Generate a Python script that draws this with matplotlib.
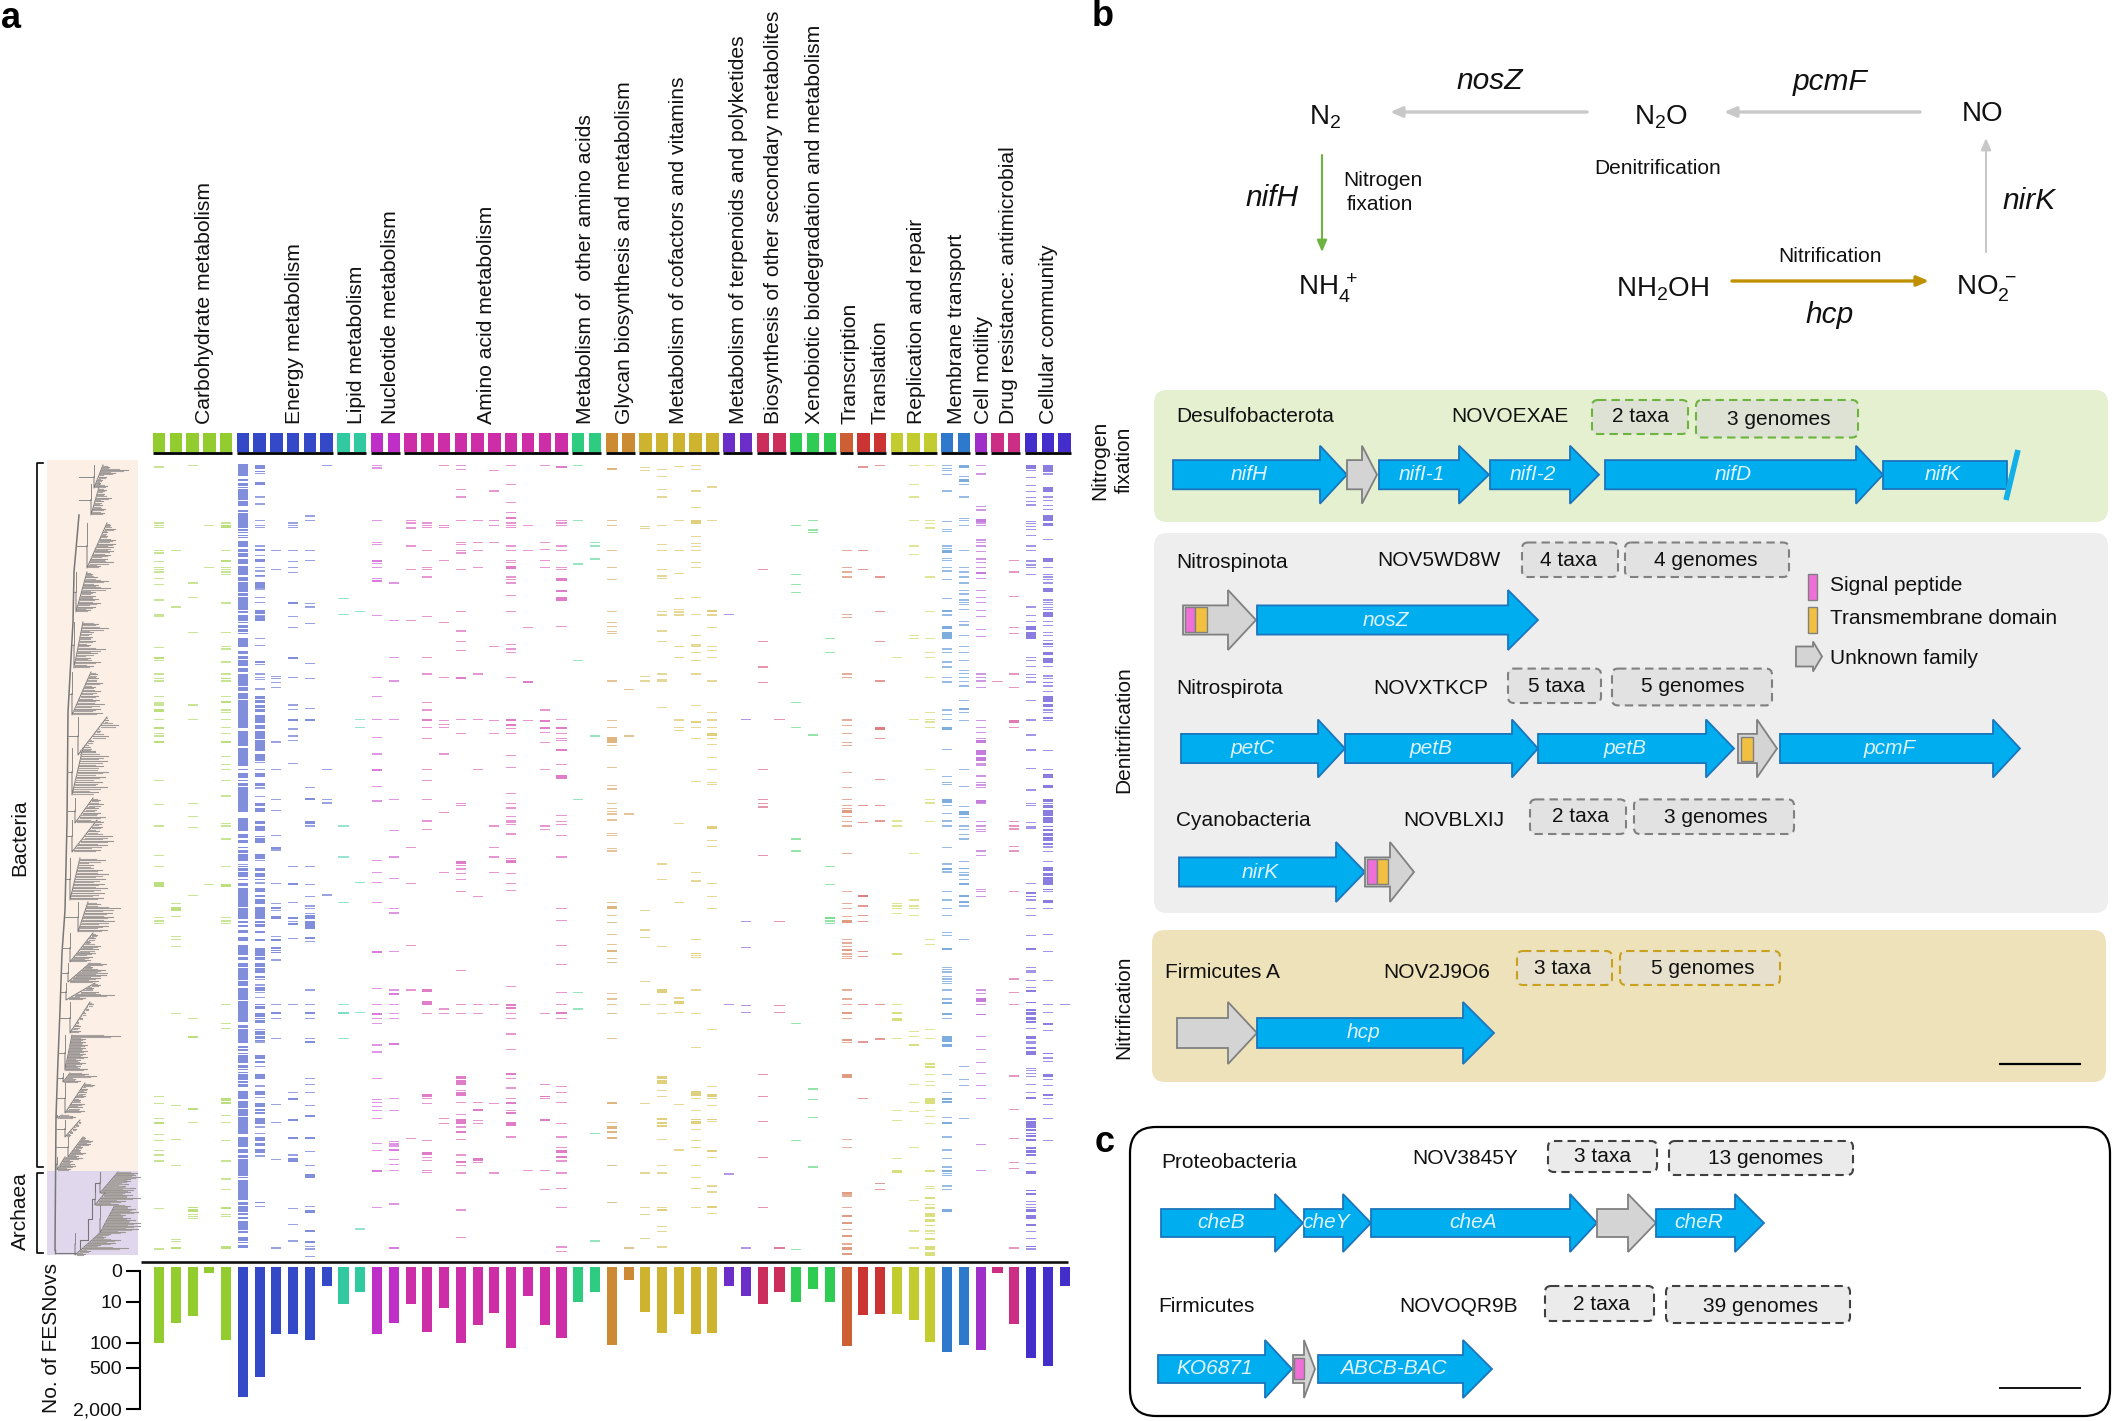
import numpy as np
import matplotlib
matplotlib.use("Agg")
import matplotlib.pyplot as plt
from matplotlib.patches import FancyBboxPatch, Polygon, Rectangle

plt.rcParams["font.family"] = ["Liberation Sans", "DejaVu Sans"]
plt.rcParams["mathtext.default"] = "regular"

# categories of panel a
group_names = [
    "Carbohydrate metabolism", "Energy metabolism", "Lipid metabolism", "Nucleotide metabolism",
    "Amino acid metabolism", "Metabolism of  other amino acids", "Glycan biosynthesis and metabolism",
    "Metabolism of cofactors and vitamins", "Metabolism of terpenoids and polyketides",
    "Biosynthesis of other secondary metabolites", "Xenobiotic biodegradation and metabolism",
    "Transcription", "Translation", "Replication and repair", "Membrane transport", "Cell motility",
    "Drug resistance: antimicrobial", "Cellular community",
]
group_sizes = [5, 6, 2, 2, 10, 2, 2, 5, 2, 2, 3, 1, 2, 3, 2, 1, 2, 3]
group_colors = [
    "#93CC2E", "#3449C7", "#30C9A0", "#C02EC8", "#CD2EA8", "#2ECC80", "#CC8A33", "#CDB32E", "#6B2EC8",
    "#CC2E5C", "#2ECC52", "#CC5F33", "#CC3333", "#C3CC2E", "#2E79CC", "#A02EC8", "#CC2E85", "#432ECC",
]

# number of FESNovs per column
fesnov_counts = [
    100, 33, 23, 0.2, 86, 1329, 672, 63, 63, 86, 2.2, 11.3, 4.3, 63, 34.5, 11.3, 56, 14.5, 100, 37,
    19, 137, 5.9, 38, 79, 10.2, 4.3, 114, 1.1, 18, 60, 20, 62, 60, 2.2, 5.9, 11.3, 4.3, 10.2, 3.2,
    10.2, 124, 22, 20, 20, 29, 95, 181, 118, 156, 0.2, 36, 260, 450, 2.2,
]

# presence rows per column, upper half of the matrix; a pair is a thick band
upper_rows = [
    [51, 219, 226, 233, 302, 309, 334, 352, 359, 366, 385, 403, 450, 493, 498, 593, (621, 627), 632, 672, 686, 693, 740, 759, 765, (777, 785), 808, (832, 838), 851, 858, (872, 878), 992, 1063, 1128],
    [302, 471],
    [47, 399, 442, 547, 765, 808, 1060, 1100, 1132],
    [226, 352],
    [219, (226, 235), 302, (330, 336), 352, 359, 366, 373, 459, 547, 590, 597, 636, 672, (683, 688), 693, 740, (753, 759), 780, 787, 808, 833, 851, (872, 878), 919, 944, 959, 992, 1038, 1121, 1128, 1167],
    [(42, 78), (88, 93), (98, 108), (111, 113), (118, 150), (154, 168), (179, 186), (190, 235), (238, 242), (245, 250), (254, 258), (261, 264), (272, 290), (297, 305), (310, 314), (316, 322), (326, 343), (348, 375), (380, 393), (397, 425), (430, 438), (441, 480), (484, 490), (495, 514), (517, 520), (524, 534), (538, 546), (549, 553), (563, 590), (603, 611), (618, 626), (631, 647), (654, 666), (672, 707), (712, 723), (730, 746), (750, 835), (842, 887), (893, 947), (957, 961), (969, 983), (990, 994), (998, 1008), (1012, 1086), (1104, 1112), (1114, 1143), (1152, 1165), (1170, 1178), (1190, 1194)],
    [(46, 57), (62, 67), 71, (96, 104), 141, 162, 212, 226, 233, 288, (297, 303), 316, (326, 336), 352, 363, (374, 378), 380, (397, 413), 417, 442, 457, (481, 491), 496, (499, 513), 565, 587, (633, 640), 643, 672, 683, 689, 717, (738, 746), (750, 760), (765, 773), (778, 786), (796, 818), (826, 838), (844, 866), (870, 902), (912, 933), 937, 959, (970, 982), (998, 1008), 1014, 1040, (1060, 1068), (1074, 1086), (1113, 1121), (1128, 1142), (1157, 1160), (1165, 1172), (1172, 1180)],
    [302, 359, 679, 686, 697, 712, 876, 959, 1049, 1081, 1157, (1190, 1197)],
    [219, 226, 233, 302, 334, 352, 367, (457, 461), 499, 532, (621, 626), 683, 765, 779, (808, 812), 837, 858, 872, 940],
    [198, 212, 302, 331, 460, 471, 521, 640, 686, 775, (808, 812), 1013, (1045, 1050), (1112, 1122), 1128],
    [47, 959, 1049, 1059],
    [446, 493, 1128],
    [485, 808, 833],
    [47, 54, 212, 277, 284, (329, 336), 341, 352, 385, (390, 397), 496, 683, 740, 808, 862, 912, (958, 964), 1010, 1053],
    [399, 511, 622, 693, 808, 1049, 1142],
    [212, 219, 234, 288, 359, 511, 1192],
    [219, 226, 233, 302, 352, 359, 381, 499, 622, 672, 758, 780, (807, 813), 833, 866, 959, 992, 1049, 1113, 1138],
    [47, 226, 233, 331, 518, 683, 812, 823, 833, 912, 1088],
    [47, 58, 119, 141, 212, 277, 284, 302, 309, 359, 485, 543, 575, 601, (681, 688), 808, 851, 1060, 1067],
    [212, 277, 302, 352, 672, 808, 959],
    [62, 123, 212, 226, 277, 590, 812, 851, 1128, 1192],
    [47, 104, 158, 187, (200, 207), 219, 226, 233, 288, 302, 331, 338, (348, 356), 381, 388, 399, 436, 485, 583, 597, 607, 682, (806, 812), (823, 829), 835, 851, 916, 952, 1031, 1060, 1074, 1100, 1113, 1118, 1124, 1152],
    [226, 302, 532, (692, 698), 812],
    [47, 277, 298, 331, 352, 780, (810, 816), (832, 838), 848, 877, 959, 1128, 1138],
    [(49, 55), 212, 219, 226, 288, 302, 352, 359, (383, 393), (420, 425), (441, 452), 529, 808, (832, 838), 851, 865, 872, (896, 902), 944, (976, 986), 1096, 1115, 1124, 1157],
    [47, 212, 342, 632, 1049],
    [277, 288, 327, 858],
    [(54, 60), 212, 226, 302, 352, 388, 485, 518, 530, 545, 550, 693, 812, 833, (862, 880), 887, 952, 1006, 1017, 1060, 1075, 1085, 1092, 1110, 1150, 1156, 1195],
    [718, 858, 1092],
    [52, 61, 230, 235, 680, 693],
    [58, 80, 119, 141, 226, 284, 302, 359, 378, 385, 485, 495, 543, 575, 672, 688, 693, 772],
    [50, 212, 302, 370, 446, 478, 486, 495, 590, 622, 810, 833, 841, 1120],
    [47, 59, 123, 173, (211, 221), 259, 280, 290, 302, 338, 352, 442, 493, 557, 585, 590, 608, 632, 672, 766, (814, 820), 833, 865, 995],
    [111, 212, (481, 487), 495, 532, 590, 601, 622, 693, 787, 810, 833, (849, 857), 865, 883, 922, 958, 998, 1003, (1128, 1136), 1171, 1189],
    [493],
    [808],
    [359, 575, 651, 697, 958, 1049, 1060, 1071],
    [808],
    [226, 373, 403, 428, 758, 833, 1167],
    [212, 240, 247, 855],
    [565, 607],
    [302, 352, 366, 381, 493, 503, 672, 682, 810, 826, 851, 877, 886, 967, 1013, 1049, 1067, 1076, (1081, 1089), 1099, 1114, 1128],
    [51, 302, 359, 1067, 1117],
    [47, 381, 485, 575, 693, (831, 839), 865, 988, 1067, 1113],
    [622, 1113, 1128],
    [47, 104, 141, 212, 288, 313, 557, 565, 808],
    [47, 212, 220, 234, 381, 485, 565, 607, 622, 682, 787, 808, 816, 833, 958, 1049, 1059, 1114],
    [47, 55, 62, 73, 123, 215, 238, 244, 288, 296, (301, 309), 325, 331, 352, 363, 388, 446, (481, 487), 495, (528, 536), (546, 566), 597, 607, 636, 651, 682, 696, 780, 793, 808, (831, 839), 898, 979, 997, 1003, (1047, 1058), 1067, 1090, 1113, 1128, 1192],
    [(46, 55), 80, (87, 95), 104, 141, 205, 212, 226, 302, 352, 366, 381, 399, 421, 432, 450, 457, 464, 478, 514, 525, 557, 589, 608, 632, 662, 671, 682, 694, 708, 751, (775, 781), 787, 812, 959, 1010, 1069, (1084, 1095), 1103, 1128, 1138, 1153, 1167],
    [47, 72, 169, 180, (208, 216), 219, 226, 270, 277, 288, 305, 327, 338, 352, (365, 371), 385, 421, 442, 457, 482, 499, 539, 559, 672, 682, 693, 712, 812, 833, 847, 865, (870, 879), (900, 914), (921, 932), 942, 947, 978, 997, 1005, 1013, (1050, 1058), 1060, 1115, 1128, 1138, 1144],
    [695],
    [331, 366, 439, 532, 550, 672, 712, (809, 820), 833, 1114, 1128, 1137, 1189],
    [(46, 56), 62, 83, 107, 125, 143, 155, 165, 214, 220, 230, 238, 256, 288, 302, 333, 345, 352, 373, 471, 496, 515, (528, 540), (546, 566), 622, 632, 650, 673, 682, 696, 751, 810, 855, 900, 955, 1020, 1060, 1067, 1117, 1131, 1136],
    [(46, 66), 72, (112, 127), 141, 152, 166, 179, (195, 214), (219, 228), 268, (323, 335), 352, 373, 381, 388, 399, (415, 426), 450, 457, 464, 472, 478, (485, 500), 514, 527, 547, 557, 571, (578, 584), 589, (606, 614), (624, 638), 650, 678, 686, (697, 700), 708, 724, (739, 755), (762, 772), 780, 787, (800, 806), 812, 901, 958, (972, 983), (1005, 1015), (1048, 1055), 1060, (1066, 1075), (1080, 1098), (1102, 1118), (1128, 1132), (1136, 1144), (1150, 1158), (1162, 1172), (1178, 1184), 1191],
    [],
]

# presence rows per column, lower half of the matrix
lower_rows = [
    [17, 49, (96, 112), 203, 213, 221, 739, 760, 806, (815, 822), 854, 872, 901, 915, 933, 1076, 1197],
    [160, (172, 183), 200, 260, 268, 290, 491, 767, 868, 947, 1168, 1174, (1190, 1196)],
    [136, 505, (558, 564), (773, 779), 817, (1072, 1075), (1078, 1086), 1094, 1100, 1105],
    [103],
    [49, (103, 112), 203, 213, 221, 463, 520, 535, (745, 752), (756, 761), 796, 817, 872, 933, 987, 1019, (1072, 1078), 1094, 1100, (1188, 1198)],
    [(0, 8), (12, 33), 43, (47, 50), (54, 62), (66, 82), (86, 90), (98, 108), (114, 170), (175, 208), (213, 219), (224, 232), (241, 248), (260, 274), (285, 315), (320, 330), (338, 350), (354, 390), (394, 407), (414, 450), (454, 516), (524, 534), (538, 578), (587, 594), (598, 604), (610, 612), (615, 640), (645, 655), (658, 660), (665, 668), (672, 690), (694, 698), (702, 710), (723, 748), (752, 774), (778, 797), (800, 852), (860, 890), (898, 908), (915, 924), (928, 978), (982, 984), (990, 1050), (1056, 1064), (1068, 1086), (1090, 1096), (1100, 1106), (1114, 1140), (1144, 1150), (1160, 1172), (1176, 1180), (1185, 1194)],
    [(12, 26), 31, (55, 63), (68, 82), (86, 90), 99, (113, 127), (135, 142), (148, 162), (172, 208), (213, 218), (222, 230), (242, 250), (266, 274), (293, 318), (322, 330), (338, 350), (353, 368), (378, 384), 388, 405, (412, 422), 427, 442, (461, 466), (469, 476), (489, 500), (505, 508), (511, 518), 538, (544, 554), (558, 566), (570, 572), 576, (616, 626), (632, 640), 649, (673, 686), 708, (724, 736), 742, (760, 772), (778, 784), (786, 792), (805, 822), 831, 850, (862, 874), (878, 888), (898, 908), 918, (1056, 1060), 1069],
    [0, 100, 160, (170, 178), 182, (198, 206), 260, (266, 272), (292, 298), (300, 303), (305, 310), 330, 463, (486, 493), 505, 566, 763, 817, 929, 1194],
    [49, (98, 104), 157, (200, 206), 215, (218, 224), 265, 463, 728, (744, 750), (806, 812), (860, 866), 915, (925, 935), 1076, 1123, 1173],
    [49, 103, 140, 168, 176, 190, (196, 208), (214, 236), (262, 266), 275, 420, 463, (487, 493), 506, 566, (572, 578), 686, 703, 728, 767, (796, 800), (860, 866), 904, 947, (972, 984), 1069, (1080, 1088), (1140, 1145), (1172, 1178), 1190, 1197, 1219],
    [135],
    [21, 157, 463, (487, 493), 566],
    [97, 487, 1137],
    [31, 67, 97, 157, (303, 310), 415, 463, (490, 496), 505, 520, 585, 606, 685, 748, 758, 770, 781, 806, 880, 901, (960, 966), 1072],
    [21, 85, 175, 189, 305, 420, (430, 435), 463, 491, 505, (580, 585), 745, 781, 875, 882, 888, (896, 902), 929, 943, 962, 1062, (1190, 1198)],
    [100, 286, 420, 865],
    [(418, 425), (454, 464), 491, (732, 741), 745, 760, 872, (907, 914), 922, 932, 961, 967],
    [67, 477, 491, 806, 821],
    [(33, 41), 46, 57, 71, 89, 125, 362, 463, 491, (678, 686), (690, 704), 721, (727, 737), 757, 793, (806, 818), (820, 822), 831, (842, 848), 868, 915, (932, 938), 946, 969, 1080, 1162],
    [139, 463, 491, 757, (777, 782), 811, 821, (925, 934), 937],
    [21, 67, 463, 760, 969],
    [25, (30, 40), 71, 100, 122, 409, (462, 467), (471, 478), 491, 505, 552, 598, (670, 676), 685, 714, 745, (757, 762), 781, (786, 791), (817, 827), 861],
    [961],
    [491, 703, (738, 742), 746, (806, 812), 961, 1019],
    [21, 175, 211, 286, 344, 427, 463, (487, 493), 505, 709, 727, 757, 821, 861, 893, (900, 908), (918, 923), 933, 969, 1015, 1072, 1191, 1205],
    [427, 477],
    [850, 1173],
    [3, 157, (168, 176), 197, 218, 254, 283, (300, 305), 326, 338, 430, 447, 463, 491, 566, (755, 762), 817, (828, 836), (842, 848), (860, 866), 947, 1058],
    [1194],
    [182, 240, 262, 394, 463, 760, 969, 1072, 1094, 1166],
    [42, 88, 290, (418, 428), 463, 491, (678, 688), (690, 702), 721, 739, (805, 810), (816, 822), (825, 830), 868, 947, 969, 1072, (1076, 1082), 1130, 1144, 1191],
    [157, 444, (453, 461), 488, 763, 900],
    [68, 93, 268, (308, 313), 317, 322, 420, 491, 592, (724, 737), 745, 781, (806, 810), (814, 822), 839, 872, 893, 947, 983, 1015, 1072],
    [100, 140, 175, 538, 709, (731, 740), 745, 767, (806, 810), 814, (900, 906), 922, 1008, 1026, (1068, 1074), 1090],
    [463, 972],
    [214, 293, 466, 487, 1194],
    [17, 674, 739, 814, 922, 1072],
    [214, 466, 487, (1190, 1196)],
    [3, 520, 872, 1198],
    [717, 749, 802, 951],
    [49, 103, (202, 206), 213, 221],
    [10, 125, 160, 175, 200, (210, 219), 268, 279, 290, (296, 304), 312, 319, 326, 420, 447, 463, (486, 493), 505, (566, 572), 577, (673, 683), 868, 893, (1025, 1032), 1035, 1040, 1072, (1094, 1102), (1115, 1122), 1139, (1155, 1160), 1182, (1192, 1200), (1208, 1216)],
    [(135, 141), 168, 197, 214, 304, 319, 463, 576, 745],
    [463, 567, 1001, 1019],
    [160, 168, 175, 190, (308, 314), 463, (487, 493), (505, 514), 566, 781, 811, 926, (961, 969)],
    [10, 150, 168, 175, 197, 545, 560, (575, 577), (583, 587), 703, 757, 785, 893, 1051, 1143, 1194],
    [268, 283, 538, 566, (640, 645), (648, 654), 674, 695, 706, (745, 752), (754, 761), 781, 799, 821, (961, 967), 1009, 1015, (1040, 1046), 1063, (1070, 1078), (1090, 1102), (1108, 1116), (1124, 1128), 1143, 1150, (1163, 1170), (1187, 1200), (1206, 1218)],
    [42, (55, 60), 66, 125, 150, 175, 197, 247, 257, (293, 299), 352, 359, 366, 380, 387, 394, 401, 420, 447, (455, 461), (490, 496), 505, (558, 576), (582, 590), 674, 728, (745, 750), (754, 760), 803, (817, 823), 861, 900, 926, 951, (960, 965), 970, 977, 1008, 1019, (1078, 1085)],
    [35, (53, 58), 68, 75, 89, (98, 105), (135, 141), (153, 160), 168, 268, 649, 688, 706, 806],
    [3, 17, 118, 125, 139, 420, 430, (444, 456), 463, (491, 496), 559, 598, 638, 670, 706, 745, 883, 961],
    [],
    [3, 125, 387, 427, 463, 678, 778, 865, 937, 955, 1194],
    [100, (126, 132), (137, 142), 150, 175, 197, 257, (293, 300), 352, 362, 366, 391, 412, (419, 425), (455, 460), (476, 482), (486, 494), (500, 509), (513, 520), 535, (558, 568), 576, 580, (592, 598), (604, 614), 656, 662, 670, 680, 703, 728, (741, 748), (805, 810), (814, 834), (838, 842), (848, 852), (856, 862), (866, 874), (892, 898), (900, 910), (912, 918), 940, (963, 971), (1020, 1024), (1028, 1036), 1054, 1063, 1072, (1078, 1086), (1094, 1106), (1122, 1128), 1144, 1166, (1188, 1192), 1197],
    [5, 35, (52, 62), (68, 78), (82, 105), (116, 119), 124, (149, 158), 175, 254, 304, 391, 463, 487, (519, 524), 541, (608, 613), 624, 634, (673, 680), 688, 706, (731, 738), 745, 763, 806, 872],
    [463],
]

# tree clades: top, bottom, stem x, inner x, then tip ends from top to bottom
tree_clades = [
    (465, 488, 94, 103, [109, 128, 115, 106, 102, 100, 103]),
    (484, 515, 91, 100, [107, 106, 104, 111, 103, 102, 105, 104]),
    (523, 568, 87, 107, [110, 115, 107, 107, 115, 115, 113, 113, 110, 107, 113, 100]),
    (572, 612, 76, 87, [92, 97, 108, 98, 110, 95, 95, 98, 100, 95, 90]),
    (622, 668, 74, 83, [98, 108, 93, 92, 95, 90, 105, 97, 90, 100, 93]),
    (672, 715, 72, 91, [97, 98, 102, 95, 100, 98, 99, 104, 100, 102]),
    (717, 755, 78, 107, [108, 118, 100, 108, 93, 90, 95]),
    (748, 795, 72, 83, [95, 108, 107, 103, 108, 105, 102, 107, 98]),
    (798, 823, 75, 93, [100, 103, 98, 100, 105, 97]),
    (820, 852, 72, 97, [103, 102, 99, 112, 113, 107, 100]),
    (858, 900, 70, 80, [105, 93, 102, 108, 105, 104, 107, 104, 103]),
    (902, 932, 78, 88, [100, 120, 112, 113, 114, 108, 107]),
    (933, 962, 70, 93, [97, 95, 90, 100, 98, 95, 92, 90]),
    (963, 982, 68, 90, [106, 92, 105, 107, 106, 100, 98]),
    (983, 1000, 66, 95, [100, 93, 98, 114, 85]),
    (1002, 1033, 70, 90, [93, 88, 85, 82, 78, 80, 80]),
    (1035, 1070, 65, 72, [120, 85, 85, 87, 85, 87, 85, 87, 80, 85, 80, 87]),
    (1073, 1082, 63, 70, [88, 96, 75, 80]),
    (1083, 1113, 65, 85, [94, 87, 86, 85, 80, 84, 82, 84]),
    (1115, 1118, 57, 62, [72, 75]),
    (1120, 1137, 65, 80, [80, 78, 76, 72, 70]),
    (1137, 1157, 68, 83, [85, 92, 90, 82, 80, 85, 78]),
    (1157, 1170, 57, 65, [82, 72, 74, 75, 70]),
    (1172, 1193, 100, 118, [137, 135, 140, 130, 130, 128, 125, 135, 133, 130]),
    (1193, 1205, 95, 105, [132, 140, 125, 118]),
    (1205, 1233, 100, 115, [130, 135, 138, 125, 130, 135, 140, 140, 138, 125]),
    (1233, 1255, 75, 100, [110, 105, 120, 115, 100, 128, 90, 85]),
]
backbone_x = [79, 74, 73, 68, 67, 65, 62, 60, 58, 56, 55]
backbone_y = [515, 572, 622, 712, 822, 910, 953, 1010, 1060, 1117, 1250]
archaea_stem_x = [55, 73, 80, 88, 92, 95, 100]
archaea_stem_y = [1253, 1253, 1240, 1219, 1199, 1183, 1172]

# gene rows of panels b and c: name, start, head start, end
genes_nif = [("nifH", 1173, 1320, 1347), (None, 1347, 1362, 1377), ("nifI-1", 1379, 1459, 1489), ("nifI-2", 1490, 1570, 1599), ("nifD", 1605, 1856, 1883)]
genes_nos = [(None, 1183, 1228, 1256), ("nosZ", 1257, 1508, 1538)]
genes_pcm = [("petC", 1181, 1318, 1345), ("petB", 1345, 1512, 1538), ("petB", 1538, 1706, 1734), (None, 1738, 1757, 1777), ("pcmF", 1780, 1993, 2020)]
genes_nir = [("nirK", 1179, 1336, 1365), (None, 1365, 1390, 1414)]
genes_hcp = [(None, 1177, 1228, 1257), ("hcp", 1257, 1463, 1494)]
genes_che = [("cheB", 1161, 1275, 1303), ("cheY", 1304, 1343, 1371), ("cheA", 1371, 1570, 1597), (None, 1597, 1628, 1656), ("cheR", 1656, 1735, 1764)]
genes_abc = [("KO6871", 1158, 1265, 1292), (None, 1293, 1304, 1315), ("ABCB-BAC", 1318, 1463, 1492)]

W, H = 2128, 1421
COL0, COL_STEP = 159, 16.77
GENE_BLUE, GENE_EDGE = "#00ADEF", "#1B75BC"
GREY_FILL, GREY_EDGE = "#D4D4D4", "#808080"
PINK, GOLD = "#EE6FD8", "#F2C040"
TXT = "#111111"

col_colors = np.repeat(group_colors, group_sizes)
columns = np.arange(len(col_colors))


def px_axes(fig, x0, y0, x1, y1):
    return fig.add_axes([x0 / W, 1 - y1 / H, (x1 - x0) / W, (y1 - y0) / H])


def col_lim(x0, x1):
    return (x0 - COL0) / COL_STEP, (x1 - COL0) / COL_STEP


def draw_rows(ax, rows, offset):
    for col, col_list in enumerate(rows):
        thin = [r + offset - 2.2 for r in col_list if not isinstance(r, tuple)]
        bands = [r for r in col_list if isinstance(r, tuple)]
        if thin:
            ax.barh(thin, 0.6, left=col - 0.3, height=4.4, align="edge",
                    color=col_colors[col], alpha=0.5, linewidth=0)
        if bands:
            ax.barh([b[0] + offset for b in bands], 0.6, left=col - 0.3, height=[b[1] - b[0] for b in bands],
                    align="edge", color=col_colors[col], alpha=0.62, linewidth=0)


def draw_tree(ax):
    ax.plot(backbone_x, backbone_y, color="#777777", lw=1.1)
    ax.plot([55, 55], [1250, 1253], color="#777777", lw=1.0)
    ax.plot(archaea_stem_x, archaea_stem_y, color="#777777", lw=0.8, drawstyle="steps-post")
    for top, bottom, stem, inner, tips in tree_clades:
        mid = (top + bottom) / 2
        if mid < 1171:
            ax.plot([np.interp(mid, backbone_y, backbone_x), stem], [mid, mid], color="#8a8a8a", lw=0.7)
        ax.plot([stem, stem, inner], [mid, bottom, top], color="#777777", lw=0.7)
        ax.plot([stem, stem], [top, mid], color="#8a8a8a", lw=0.7)
        n = len(tips)
        for k, tip in enumerate(tips):
            y = top + (bottom - top) * (k + 0.5) / n
            start = stem + (inner - stem) * (1 - (k + 0.5) / n)
            dy = (bottom - top) / n / 3
            ax.plot([start, tip], [y, y], color="#9c9694", lw=0.8)
            ax.plot([start, start + (tip - start) * 0.8], [y + dy, y + dy], color="#a8a2a0", lw=0.8)
            ax.plot([start, start + (tip - start) * 0.65], [y - dy, y - dy], color="#a8a2a0", lw=0.8)


def draw_arrow(ax, start, head, end, yc, body, half, fill, edge):
    pts = [(start, yc - body), (head, yc - body), (head, yc - half), (end, yc),
           (head, yc + half), (head, yc + body), (start, yc + body)]
    ax.add_patch(Polygon(pts, closed=True, facecolor=fill, edgecolor=edge, lw=1.3, zorder=3))


def draw_genes(ax, genes, yc, body=14.6, half=29):
    for name, start, head, end in genes:
        if name is None:
            draw_arrow(ax, start, head, end, yc, body, half, GREY_FILL, GREY_EDGE)
        else:
            draw_arrow(ax, start, head, end, yc, body, half, GENE_BLUE, GENE_EDGE)
            ax.text((start + head) / 2 + (end - head) * 0.1, yc, name, color="#DFF4FF", style="italic",
                    fontsize=15, ha="center", va="center", zorder=4)


def dashed_box(ax, x0, y0, x1, y1, label, lx, ly, edge, face):
    ax.add_patch(FancyBboxPatch((x0, y0), x1 - x0, y1 - y0, boxstyle="round,pad=0,rounding_size=6",
                                facecolor=face, edgecolor=edge, lw=1.5, linestyle=(0, (4, 2.5)), zorder=2))
    ax.text(lx, ly, label, fontsize=15, color=TXT, ha="center", va="center", zorder=3)


def domain(ax, x0, x1, y0, y1, color):
    ax.add_patch(Rectangle((x0, y0), x1 - x0, y1 - y0, facecolor=color, edgecolor=GREY_EDGE, lw=1, zorder=5))


def panel(ax, x0, y0, x1, y1, color):
    ax.add_patch(FancyBboxPatch((x0, y0), x1 - x0, y1 - y0, boxstyle="round,pad=0,rounding_size=13",
                                facecolor=color, edgecolor="none", zorder=1))


def flow(ax, xy_from, xy_to, color, lw):
    ax.annotate("", xy=xy_to, xytext=xy_from, zorder=3,
                arrowprops=dict(arrowstyle="-|>,head_length=0.7,head_width=0.3", color=color, lw=lw,
                                shrinkA=0, shrinkB=0))


fig = plt.figure(figsize=(W / 100, H / 100), dpi=100, facecolor="white")

# matrix of panel a
ax_heat = px_axes(fig, 140, 450, 1075, 1261)
ax_heat.set_xlim(*col_lim(140, 1075))
ax_heat.set_ylim(2433, 0)
draw_rows(ax_heat, upper_rows, 0)
draw_rows(ax_heat, lower_rows, 1200)
ax_heat.axis("off")

# colour strip and group rules
ax_strip = px_axes(fig, 140, 433, 1075, 455)
ax_strip.set_xlim(*col_lim(140, 1075))
ax_strip.set_ylim(0, 22)
ax_strip.bar(columns, 19, width=0.74, bottom=3, color=col_colors, linewidth=0)
first = 0
for size in group_sizes:
    ax_strip.hlines(1.5, first - 0.37, first + size - 1 + 0.37, color="black", lw=2)
    first += size
ax_strip.axis("off")

# bars below the matrix, on the picture's stretched log axis
scale_u = np.log10(1 + np.array([-0.109, 0, 10, 100, 500, 2000]))
scale_pos = np.array([-4.0, 0, 31, 72, 97.3, 138])


def to_axis(v):
    return np.interp(np.log10(1 + np.clip(v, -0.5, None)), scale_u, scale_pos)


def from_axis(p):
    return 10 ** np.interp(p, scale_pos, scale_u) - 1


ax_bar = px_axes(fig, 140, 1266.7, 1075, 1408.7)
ax_bar.set_yscale("function", functions=(to_axis, from_axis))
ax_bar.bar(columns, np.array(fesnov_counts) + 0.109, bottom=-0.109, width=0.6, color=col_colors, linewidth=0)
ax_bar.set_xlim(*col_lim(140, 1075))
ax_bar.set_ylim(2000, -0.109)
ax_bar.set_yticks([0, 10, 100, 500, 2000])
ax_bar.set_yticklabels(["0", "10", "100", "500", "2,000"], fontsize=14, color=TXT)
ax_bar.minorticks_off()
ax_bar.tick_params(axis="y", length=10, width=1.5, pad=3)
ax_bar.set_xticks([])
for side in ("top", "right", "bottom"):
    ax_bar.spines[side].set_visible(False)
ax_bar.spines["left"].set_linewidth(1.5)
ax_bar.spines["left"].set_bounds(0, 2000)
ax_bar.patch.set_alpha(0)

# everything else is placed in picture pixels
ov = fig.add_axes([0, 0, 1, 1], zorder=5)
ov.set_xlim(0, W)
ov.set_ylim(H, 0)
ov.axis("off")

ov.text(1, 19, "a", fontsize=26, fontweight="bold", color="black", va="center")
ov.text(1092, 17, "b", fontsize=26, fontweight="bold", color="black", va="center")
ov.text(1095, 1143, "c", fontsize=26, fontweight="bold", color="black", va="center")

label_x = [204, 294, 356.5, 391, 487, 585.6, 625, 678, 738, 773.6, 814.6, 850, 880, 917, 956.7, 983.6, 1009, 1049]
for name, x in zip(group_names, label_x):
    ov.text(x, 424, name, rotation=90, fontsize=15.25, color=TXT, ha="center", va="bottom")

ov.hlines(1262, 141, 1068, color="#111111", lw=1.9)

ov.add_patch(Rectangle((47, 460), 91, 711, facecolor="#FCEFE6", edgecolor="none", zorder=0))
ov.add_patch(Rectangle((47, 1171), 91, 84, facecolor="#E0D7EC", edgecolor="none", zorder=0))
draw_tree(ov)
ov.plot([43, 37, 37, 43], [463, 463, 1167, 1167], color="black", lw=1.2)
ov.plot([43, 37, 37, 43], [1173, 1173, 1253, 1253], color="black", lw=1.2)
ov.text(20, 838, "Bacteria", rotation=90, fontsize=15, color=TXT, ha="center", va="center")
ov.text(20, 1211, "Archaea", rotation=90, fontsize=15, color=TXT, ha="center", va="center")
ov.text(52, 1338, "No. of FESNovs", rotation=90, fontsize=15, color=TXT, ha="center", va="center")

# nitrogen cycle
for txt, x, y in [("$N_2$", 1325, 117), ("$N_2O$", 1661, 117), ("NO", 1983, 114),
                  ("$NH_4^{\\,+}$", 1328, 288), ("$NH_2OH$", 1663, 289), ("$NO_2^{\\,-}$", 1987, 289)]:
    ov.text(x, y, txt, fontsize=20, color=TXT, ha="center", va="center")
for txt, x, y in [("nosZ", 1490, 81), ("pcmF", 1830, 82), ("nifH", 1272, 198), ("nirK", 2029, 201), ("hcp", 1830, 315)]:
    ov.text(x, y, txt, fontsize=21.5, style="italic", color=TXT, ha="center", va="center")
for txt, x, y in [("Nitrogen", 1383, 180), ("fixation", 1380, 205), ("Denitrification", 1658, 169), ("Nitrification", 1830, 256)]:
    ov.text(x, y, txt, fontsize=15, color=TXT, ha="center", va="center")
flow(ov, (1587, 112), (1390, 112), "#C8C8C8", 2.4)
flow(ov, (1920, 112), (1724, 112), "#C8C8C8", 2.4)
flow(ov, (1986, 252), (1986, 138), "#C8C8C8", 1.5)
flow(ov, (1322, 155), (1322, 252), "#6CB33F", 1.5)
flow(ov, (1732, 281), (1929, 281), "#BF9000", 2.4)

# panels of panel b
panel(ov, 1154, 390, 2108, 522, "#E4F0CF")
panel(ov, 1154, 533, 2108, 913, "#EEEEEE")
panel(ov, 1152, 930, 2106, 1082, "#EEE2BA")
ov.add_patch(FancyBboxPatch((1130, 1127), 980, 289, boxstyle="round,pad=0,rounding_size=26",
                            facecolor="white", edgecolor="black", lw=1.6, zorder=1))

ov.text(1100, 460, "Nitrogen", rotation=90, fontsize=15, color=TXT, ha="center", va="center")
ov.text(1124, 460, "fixation", rotation=90, fontsize=15, color=TXT, ha="center", va="center")
ov.text(1124, 730, "Denitrification", rotation=90, fontsize=15, color=TXT, ha="center", va="center")
ov.text(1124, 1007, "Nitrification", rotation=90, fontsize=15, color=TXT, ha="center", va="center")

for txt, x, y in [("Desulfobacterota", 1176, 417), ("NOVOEXAE", 1451, 417), ("Nitrospinota", 1176, 562.5),
                  ("NOV5WD8W", 1377, 560), ("Nitrospirota", 1176, 689), ("NOVXTKCP", 1373, 688),
                  ("Cyanobacteria", 1176, 820), ("NOVBLXIJ", 1403, 820), ("Firmicutes A", 1165, 972),
                  ("NOV2J9O6", 1383, 972), ("Proteobacteria", 1161, 1162), ("NOV3845Y", 1412, 1158),
                  ("Firmicutes", 1158, 1307), ("NOVOQR9B", 1399, 1307),
                  ("Signal peptide", 1830, 585.6), ("Transmembrane domain", 1830, 619), ("Unknown family", 1830, 658)]:
    ov.text(x, y, txt, fontsize=15, color=TXT, ha="left", va="center", zorder=3)

GREEN_EDGE, AMBER_EDGE, DARK_EDGE = "#6CB33F", "#C9A020", "#404040"
dashed_box(ov, 1592, 400, 1688, 434, "2 taxa", 1640, 417, GREEN_EDGE, "#DDE2D4")
dashed_box(ov, 1696, 400, 1858, 437.5, "3 genomes", 1779, 419.6, GREEN_EDGE, "#DDE2D4")
dashed_box(ov, 1522, 542.5, 1618, 577, "4 taxa", 1568, 560, GREY_EDGE, "#E2E2E2")
dashed_box(ov, 1625, 542.5, 1789, 577, "4 genomes", 1706, 560, GREY_EDGE, "#E2E2E2")
dashed_box(ov, 1508, 668.6, 1601, 703, "5 taxa", 1556, 686.5, GREY_EDGE, "#E2E2E2")
dashed_box(ov, 1612, 668.6, 1772, 705.4, "5 genomes", 1693, 687, GREY_EDGE, "#E2E2E2")
dashed_box(ov, 1530, 799.4, 1626, 834, "2 taxa", 1580, 816.6, GREY_EDGE, "#E2E2E2")
dashed_box(ov, 1634, 799.4, 1794, 834, "3 genomes", 1716, 817.3, GREY_EDGE, "#E2E2E2")
dashed_box(ov, 1517, 951, 1612, 985, "3 taxa", 1563, 969, AMBER_EDGE, "#E6E0CC")
dashed_box(ov, 1620, 951, 1780, 985, "5 genomes", 1703, 968, AMBER_EDGE, "#E6E0CC")
dashed_box(ov, 1548, 1141, 1657, 1172, "3 taxa", 1603, 1157, DARK_EDGE, "#EBEBEB")
dashed_box(ov, 1669, 1141, 1853, 1175, "13 genomes", 1766, 1158, DARK_EDGE, "#EBEBEB")
dashed_box(ov, 1545, 1286, 1654, 1321, "2 taxa", 1601, 1304, DARK_EDGE, "#EBEBEB")
dashed_box(ov, 1666, 1286, 1850, 1323, "39 genomes", 1761, 1306, DARK_EDGE, "#EBEBEB")

draw_genes(ov, genes_nif, 474.7)
# nifK runs off the end of the contig
ov.add_patch(Rectangle((1883, 460.7), 124, 28, facecolor=GENE_BLUE, edgecolor=GENE_EDGE, lw=1.3, zorder=3))
ov.text(1943, 474.7, "nifK", color="#DFF4FF", style="italic", fontsize=15, ha="center", va="center", zorder=4)
ov.plot([2018, 2006], [450, 500], color="#12B0E8", lw=4, solid_capstyle="butt", zorder=4)

draw_genes(ov, genes_nos, 620, half=30)
domain(ov, 1185, 1195, 607, 632, PINK)
domain(ov, 1195, 1207, 607, 632, GOLD)
draw_genes(ov, genes_pcm, 748.5)
domain(ov, 1741, 1753, 736.5, 760.5, GOLD)
draw_genes(ov, genes_nir, 872, half=30)
domain(ov, 1367, 1377, 859, 884, PINK)
domain(ov, 1377, 1388, 859, 884, GOLD)
draw_genes(ov, genes_hcp, 1033, body=15, half=31)
draw_genes(ov, genes_che, 1223, body=14, half=29)
draw_genes(ov, genes_abc, 1369, body=14, half=29)
domain(ov, 1294, 1304, 1358, 1379, PINK)

domain(ov, 1808, 1817, 573.5, 599.7, PINK)
domain(ov, 1808, 1817, 606.6, 633, GOLD)
draw_arrow(ov, 1796, 1813, 1822, 656.5, 10, 15, GREY_FILL, GREY_EDGE)

ov.hlines(1064, 1999, 2081, color="black", lw=1.6, zorder=4)
ov.hlines(1388, 1999, 2081, color="black", lw=1.3, zorder=4)

fig.savefig("out.png", dpi=100, facecolor="white")
